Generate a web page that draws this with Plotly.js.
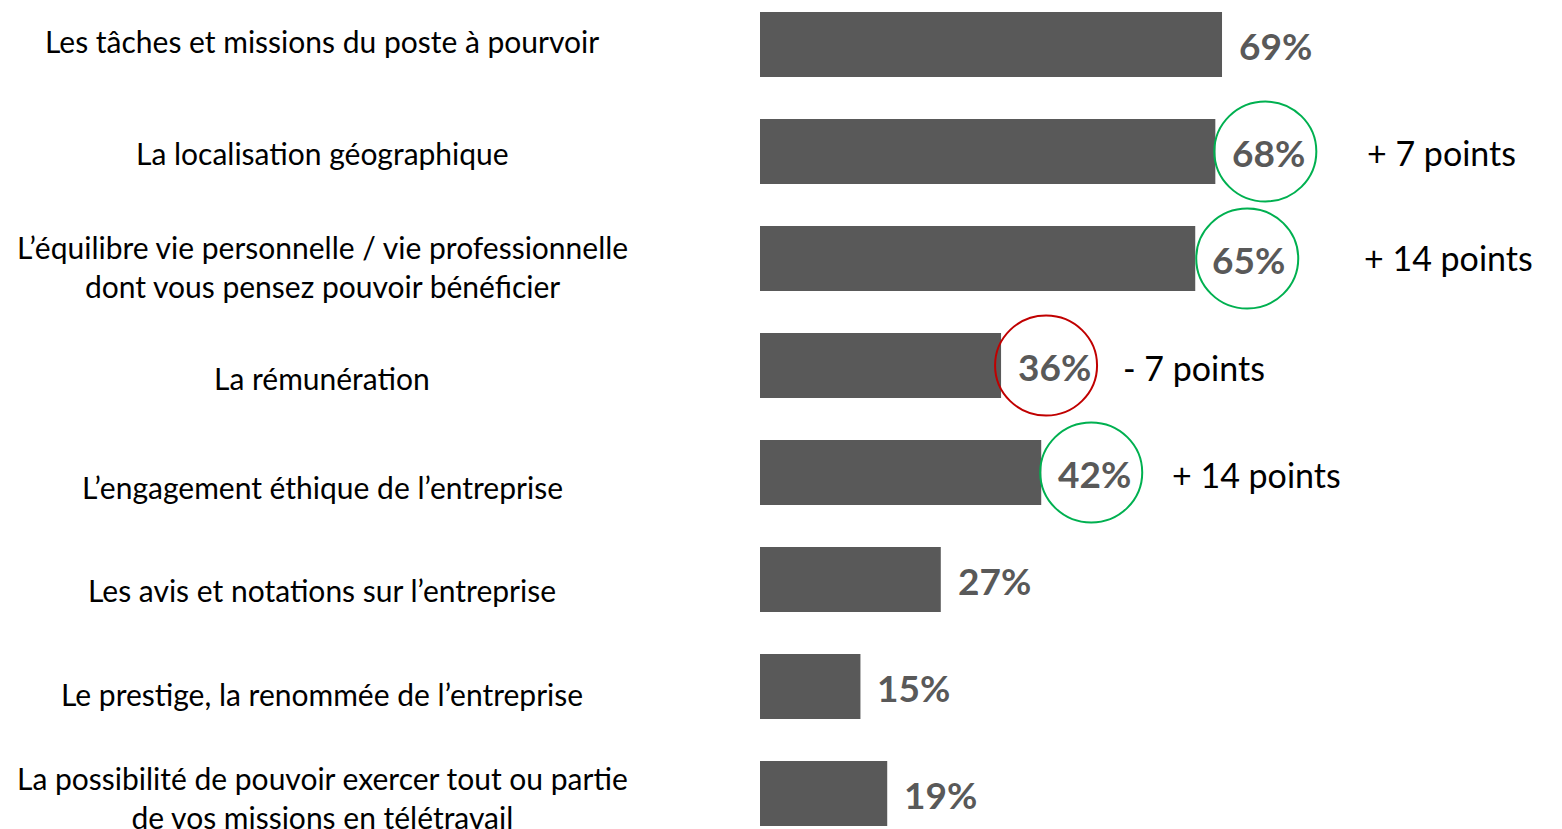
<!DOCTYPE html>
<html>
<head>
<meta charset="utf-8">
<script src="https://cdn.plot.ly/plotly-3.0.1.min.js"></script>
<style>html,body{margin:0;padding:0;background:#fff;}#chart{width:1562px;height:829px;}</style>
</head>
<body>
<div id="chart"></div>
<script>
// ---- data ----
const categories = [
  "Les tâches et missions du poste à pourvoir",
  "La localisation géographique",
  "L’équilibre vie personnelle / vie professionnelle<br>dont vous pensez pouvoir bénéficier",
  "La rémunération",
  "L’engagement éthique de l’entreprise",
  "Les avis et notations sur l’entreprise",
  "Le prestige, la renommée de l’entreprise",
  "La possibilité de pouvoir exercer tout ou partie<br>de vos missions en télétravail"
];
const values = [69, 68, 65, 36, 42, 27, 15, 19];
const valueLabels = ["69%", "68%", "65%", "36%", "42%", "27%", "15%", "19%"];
// evolutions (index of category, text, trend)
const deltaIndex = [1, 2, 3, 4];
const deltaText = ["+ 7 points", "+ 14 points", "- 7 points", "+ 14 points"];
const deltaTrend = ["up", "up", "down", "up"];

// ---- styles ----
const pxPerUnit = 6.696;
const x0px = 760;
const W = 1562, H = 829;
const barColor = "#595959";
const labelFont = "Lato, 'Open Sans', sans-serif";
const labelYShift = [3.5, -1, -8, -12.5, -14.5, -10.5, -7.5, -4];
const deltaXShift = [150, 167, 120, 129];
const deltaYShift = [-0.5, 1.5, -1.5, -1.5];
const circleXOff = [-1, 1, -6, -1];
const trendColor = {up: "#00B050", down: "#C00000"};

const idx = categories.map((_, i) => i);

const trace = {
  type: "bar",
  orientation: "h",
  x: values,
  y: idx,
  marker: {color: barColor},
  hoverinfo: "skip"
};

const annotations = [];
categories.forEach((c, i) => {
  annotations.push({
    xref: "paper", yref: "y", x: 322 / W, y: i, xanchor: "center", yanchor: "middle",
    text: c, showarrow: false, align: "center",
    yshift: labelYShift[i],
    font: {family: labelFont, size: 30, color: "#000"}
  });
  annotations.push({
    xref: "x", yref: "y", x: values[i], y: i, xanchor: "left", yanchor: "middle",
    text: "<b>" + valueLabels[i] + "</b>", showarrow: false,
    xshift: 15, yshift: -0.5,
    font: {family: labelFont, size: 37, color: barColor}
  });
});
const shapes = [];
deltaIndex.forEach((ci, k) => {
  annotations.push({
    xref: "x", yref: "y", x: values[ci], y: ci, xanchor: "left", yanchor: "middle",
    text: deltaText[k], showarrow: false,
    xshift: deltaXShift[k], yshift: deltaYShift[k],
    font: {family: labelFont, size: 34, color: "#000"}
  });
  shapes.push({
    type: "circle", xref: "x", yref: "y",
    xsizemode: "pixel", ysizemode: "pixel",
    xanchor: values[ci], yanchor: ci,
    x0: circleXOff[k], x1: circleXOff[k] + 102, y0: -50, y1: 50,
    line: {color: trendColor[deltaTrend[k]], width: 2},
    fillcolor: "rgba(0,0,0,0)"
  });
});

const layout = {
  width: W, height: H,
  margin: {l: 0, r: 0, t: 0, b: 0, pad: 0},
  paper_bgcolor: "#fff", plot_bgcolor: "#fff",
  showlegend: false,
  bargap: 0.393,
  xaxis: {range: [-x0px / pxPerUnit, (W - x0px) / pxPerUnit], visible: false, fixedrange: true},
  yaxis: {range: [(H - 44.5) / 107, -44.5 / 107], visible: false, fixedrange: true},
  annotations: annotations,
  shapes: shapes
};

Plotly.newPlot("chart", [trace], layout, {displayModeBar: false, staticPlot: true});
</script>
</body>
</html>
